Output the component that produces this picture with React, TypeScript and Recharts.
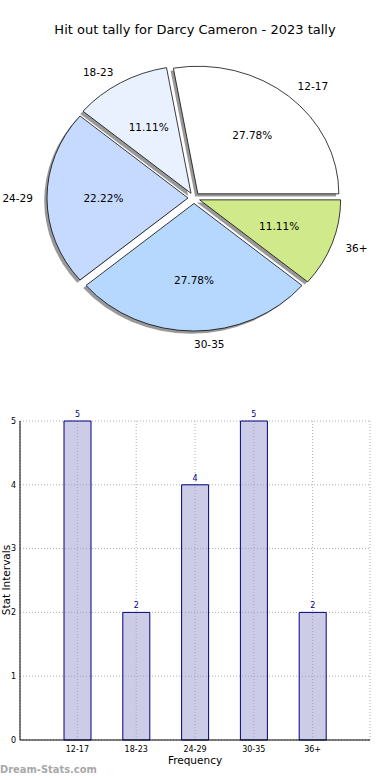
import React from 'react';
import {
  PieChart,
  Pie,
  Sector,
  BarChart,
  Bar,
  XAxis,
  YAxis,
  CartesianGrid,
  LabelList,
} from 'recharts';

const intervals = ['12-17', '18-23', '24-29', '30-35', '36+'];
const tallies = [5, 2, 4, 5, 2];
const sliceColors = ['#ffffff', '#eaf1fe', '#c6d9fe', '#b6d7fe', '#d0ea8b'];
const yTicks = [0, 1, 2, 3, 4, 5];

const pieData = intervals.map((name, i) => ({ name, value: tallies[i], fill: sliceColors[i] }));
const barData = intervals.map((name, i) => ({ name, value: tallies[i] }));

const FONT = '"DejaVu Sans", sans-serif';
const SQUASH = 0.905; // the original pie is a bit flattened
const EXPLODE = 6;
const RAD = Math.PI / 180;

const squash = (cx: number, cy: number) =>
  `translate(${cx} ${cy}) scale(1 ${SQUASH}) translate(${-cx} ${-cy})`;

const offsetOf = (midAngle: number) => ({
  dx: EXPLODE * Math.cos(-midAngle * RAD),
  dy: EXPLODE * Math.sin(-midAngle * RAD),
});

const ExplodedSlice = (props: any) => {
  const { cx, cy, midAngle } = props;
  const { dx, dy } = offsetOf(midAngle);
  return (
    <g transform={squash(cx, cy)}>
      <Sector {...props} cx={cx + dx} cy={cy + dy} stroke="#000" strokeWidth={0.8} />
    </g>
  );
};

const SliceShadow = (props: any) => {
  const { cx, cy, midAngle } = props;
  const { dx, dy } = offsetOf(midAngle);
  return (
    <g transform={squash(cx, cy)}>
      <Sector
        {...props}
        cx={cx + dx - 2.8}
        cy={cy + dy + 2.9}
        fill="#000"
        fillOpacity={0.4}
        stroke="none"
      />
    </g>
  );
};

const renderPieLabel = (props: any) => {
  const { cx, cy, midAngle, outerRadius, percent, payload } = props;
  const cos = Math.cos(-midAngle * RAD);
  const sin = Math.sin(-midAngle * RAD);
  const { dx, dy } = offsetOf(midAngle);
  const lx = cx + dx + 1.1 * outerRadius * cos;
  const ly = cy + (dy + 1.1 * outerRadius * sin) * SQUASH;
  const px = cx + dx + 0.6 * outerRadius * cos;
  const py = cy + (dy + 0.6 * outerRadius * sin) * SQUASH;
  return (
    <g fontFamily={FONT} fontSize={10.5} fill="#000">
      <text x={lx} y={ly} textAnchor={cos > -0.01 ? 'start' : 'end'} dominantBaseline="central">
        {payload.name}
      </text>
      <text x={px} y={py} textAnchor="middle" dominantBaseline="central">
        {(percent * 100).toFixed(2)}%
      </text>
    </g>
  );
};

export default function App() {
  return (
    <div
      style={{
        position: 'absolute',
        left: 0,
        top: 0,
        width: 390,
        height: 780,
        background: '#fff',
        fontFamily: FONT,
        overflow: 'hidden',
      }}
    >
      <div
        style={{
          position: 'absolute',
          top: 20,
          left: 0,
          width: 390,
          textAlign: 'center',
          fontSize: 13,
          lineHeight: '20px',
          color: '#000',
        }}
      >
        Hit out tally for Darcy Cameron - 2023 tally
      </div>

      <div style={{ position: 'absolute', top: 0, left: 0 }}>
        <PieChart width={390} height={370} margin={{ top: 0, right: 0, bottom: 0, left: 0 }}>
          <Pie
            data={pieData}
            dataKey="value"
            nameKey="name"
            cx={194}
            cy={198}
            outerRadius={141}
            startAngle={0}
            endAngle={360}
            shape={SliceShadow}
            stroke="none"
            isAnimationActive={false}
          />
          <Pie
            data={pieData}
            dataKey="value"
            nameKey="name"
            cx={194}
            cy={198}
            outerRadius={141}
            startAngle={0}
            endAngle={360}
            shape={ExplodedSlice}
            label={renderPieLabel}
            labelLine={false}
            isAnimationActive={false}
          />
        </PieChart>
      </div>

      <div style={{ position: 'absolute', top: 390, left: 0 }}>
        <BarChart
          width={390}
          height={390}
          data={barData}
          margin={{ top: 31, right: 20, bottom: 0, left: 0 }}
        >
          <CartesianGrid stroke="#b0b0b0" strokeDasharray="1 2" />
          <XAxis
            dataKey="name"
            height={40}
            interval={0}
            padding={{ left: 28, right: 28 }}
            tickLine={false}
            tickSize={4}
            tickMargin={2}
            axisLine={{ stroke: '#000' }}
            tick={{ fontSize: 8, fill: '#000', fontFamily: FONT }}
          />
          <XAxis
            xAxisId="top"
            orientation="top"
            dataKey="name"
            height={0}
            tick={false}
            tickLine={false}
            axisLine={{ stroke: '#000' }}
          />
          <YAxis
            domain={[0, 5]}
            ticks={yTicks}
            width={20}
            tickLine={false}
            tickSize={3}
            tickMargin={1}
            axisLine={{ stroke: '#000' }}
            tick={{ fontSize: 8, fill: '#000', fontFamily: FONT }}
          />
          <YAxis
            yAxisId="right"
            orientation="right"
            width={0}
            tick={false}
            tickLine={false}
            axisLine={{ stroke: '#000' }}
          />
          <Bar
            dataKey="value"
            barSize={27}
            fill="#9a9acd"
            fillOpacity={0.5}
            stroke="#000080"
            strokeWidth={1}
            isAnimationActive={false}
          >
            <LabelList
              dataKey="value"
              position="top"
              offset={4}
              fill="#00008b"
              fontSize={8}
              fontFamily={FONT}
            />
          </Bar>
        </BarChart>
      </div>

      <div
        style={{
          position: 'absolute',
          top: 752,
          left: 0,
          width: 390,
          textAlign: 'center',
          fontSize: 10.5,
          lineHeight: '16px',
          color: '#000',
        }}
      >
        Frequency
      </div>
      <div
        style={{
          position: 'absolute',
          left: 6,
          top: 580,
          fontSize: 10.5,
          lineHeight: '12px',
          whiteSpace: 'nowrap',
          color: '#000',
          transform: 'translate(-50%, -50%) rotate(-90deg)',
        }}
      >
        Stat Intervals
      </div>
      <div
        style={{
          position: 'absolute',
          left: 0,
          top: 762,
          fontFamily: '"DejaVu Sans Condensed", "DejaVu Sans", sans-serif',
          fontWeight: 'bold',
          fontSize: 11,
          lineHeight: '16px',
          color: '#a8a8a8',
        }}
      >
        Dream-Stats.com
      </div>
    </div>
  );
}
